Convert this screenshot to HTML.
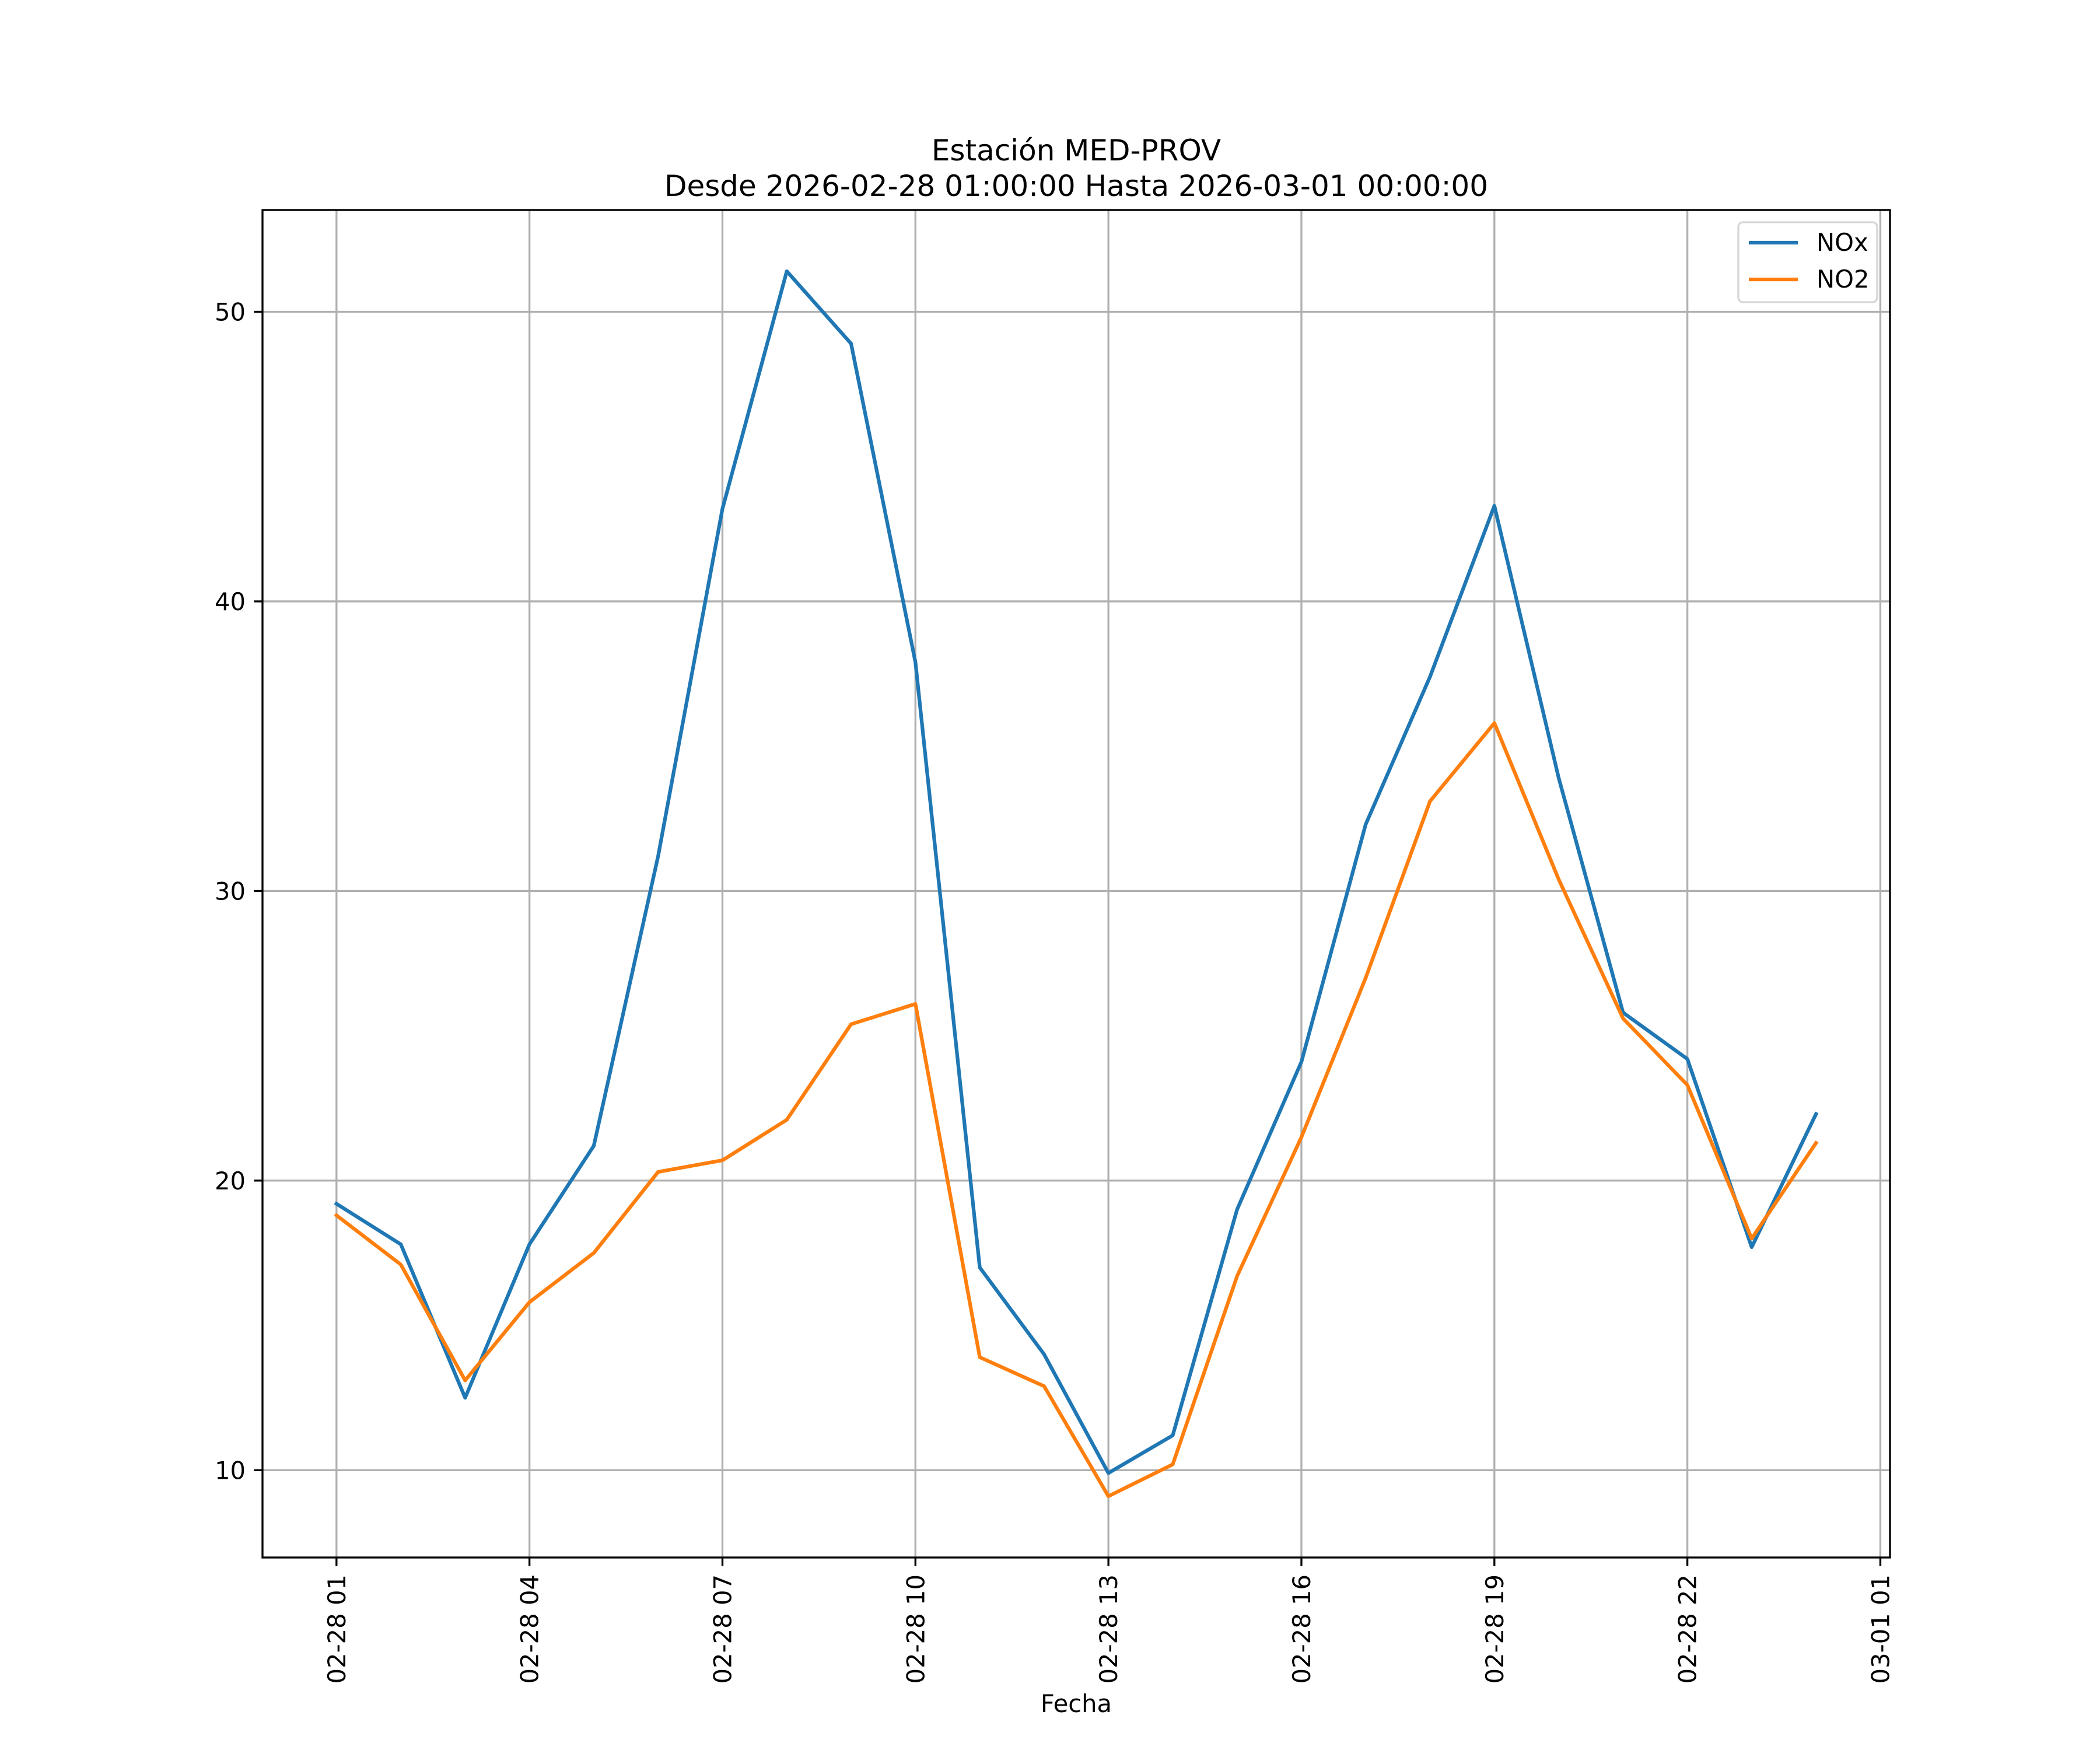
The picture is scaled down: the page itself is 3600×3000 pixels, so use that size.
<!DOCTYPE html>
<html><head><meta charset="utf-8"><style>
html,body{margin:0;padding:0;background:#fff;}
svg{display:block;font-family:"DejaVu Sans","Liberation Sans",sans-serif;}
</style></head><body>
<svg id="chart" width="3600" height="3000" viewBox="0 0 3600 3000">
<rect x="0" y="0" width="3600" height="3000" fill="#fff"/>
<text x="1845" y="275" font-size="50" text-anchor="middle">Estación MED-PROV</text>
<text x="1845" y="336" font-size="50" text-anchor="middle">Desde 2026-02-28 01:00:00 Hasta 2026-03-01 00:00:00</text>
<g id="grid"></g>
<g id="series"></g>
<rect x="450" y="360" width="2790" height="2310" fill="none" stroke="#000" stroke-width="3.33"/>
<g id="ticks"></g>
<text x="1845" y="2935" font-size="41.7" text-anchor="middle">Fecha</text>
<g>
<rect x="2980" y="381" width="238" height="137" rx="8" fill="#fff" fill-opacity="0.8" stroke="#d6d6d6" stroke-width="3.33"/>
<line x1="2998" y1="416" x2="3082" y2="416" stroke="#1f77b4" stroke-width="6.25"/>
<text x="3114" y="430" font-size="41.7">NOx</text>
<line x1="2998" y1="479" x2="3082" y2="479" stroke="#ff7f0e" stroke-width="6.25"/>
<text x="3114" y="493" font-size="41.7">NO2</text>
</g>
</svg>
<script>
const hours = [0,1,2,3,4,5,6,7,8,9,10,11,12,13,14,15,16,17,18,19,20,21,22,23];
const noxValues = [19.2,17.8,12.5,17.8,21.2,31.2,43.2,51.4,48.9,37.9,17.0,14.0,9.9,11.2,19.0,24.1,32.3,37.4,43.3,33.9,25.8,24.2,17.7,22.3];
const no2Values = [18.8,17.1,13.1,15.8,17.5,20.3,20.7,22.1,25.4,26.1,13.9,12.9,9.1,10.2,16.7,21.5,27.0,33.1,35.8,30.4,25.6,23.3,18.0,21.3];
const xTickHours = [0,3,6,9,12,15,18,21,24];
const xTickLabels = ["02-28 01","02-28 04","02-28 07","02-28 10","02-28 13","02-28 16","02-28 19","02-28 22","03-01 01"];
const yTicks = [10,20,30,40,50];

const NS="http://www.w3.org/2000/svg";
const L=450,R=3240,T=360,B=2670;
const allV=noxValues.concat(no2Values);
const vmin=Math.min(...allV), vmax=Math.max(...allV);
const ymn=vmin-(vmax-vmin)*0.05, ymx=vmax+(vmax-vmin)*0.05;
const hmin=Math.min(...hours), hmax=Math.max(...hours);
const xmn=hmin-(hmax-hmin)*0.05, xmx=hmax+(hmax-hmin)*0.05;
const xs=h=>L+(h-xmn)/(xmx-xmn)*(R-L);
const ys=v=>B-(v-ymn)/(ymx-ymn)*(B-T);
function mk(tag,attrs,parent){const e=document.createElementNS(NS,tag);for(const k in attrs)e.setAttribute(k,attrs[k]);parent.appendChild(e);return e;}
const grid=document.getElementById('grid'),ticks=document.getElementById('ticks'),series=document.getElementById('series');
xTickHours.forEach((h,i)=>{
  const x=xs(h);
  const g=mk('line',{x1:x,y1:T,x2:x,y2:B,stroke:'#b0b0b0','stroke-width':3.33},grid);
  
  
  const t=mk('line',{x1:x,y1:B,x2:x,y2:B+14.6,stroke:'#000','stroke-width':3.33},ticks);
  
  
  const tx=mk('text',{x:0,y:0,'font-size':41.7,'text-anchor':'end',transform:`translate(${x+15},${B+29}) rotate(-90)`},ticks);
  tx.textContent=xTickLabels[i];
  
  
});
yTicks.forEach(v=>{
  const y=ys(v);
  const g=mk('line',{x1:L,y1:y,x2:R,y2:y,stroke:'#b0b0b0','stroke-width':3.33},grid);
  
  
  const t=mk('line',{x1:L-14.6,y1:y,x2:L,y2:y,stroke:'#000','stroke-width':3.33},ticks);
  
  
  const tx=mk('text',{x:L-29,y:y+15,'font-size':41.7,'text-anchor':'end'},ticks);
  tx.textContent=String(v);
  
  
});
function line(vals,color,name){
  const pts=vals.map((v,i)=>xs(hours[i]).toFixed(1)+','+ys(v).toFixed(1)).join(' ');
  const p=mk('polyline',{points:pts,fill:'none',stroke:color,'stroke-width':6.25,'stroke-linejoin':'round','stroke-linecap':'square'},series);
  
  
}
line(noxValues,'#1f77b4','nox-line');
line(no2Values,'#ff7f0e','no2-line');
</script>
</body></html>
